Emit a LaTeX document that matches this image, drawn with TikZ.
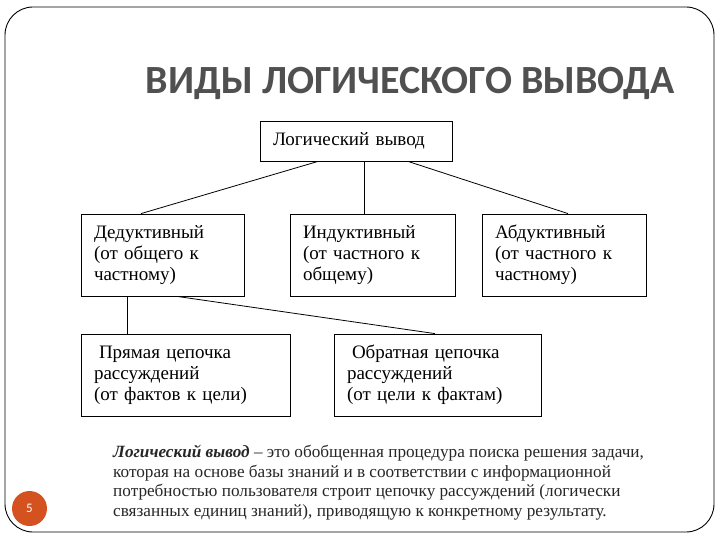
\documentclass[tikz,border=0pt]{standalone}
\usepackage{fontspec}
\setmainfont{Liberation Serif}
\newfontfamily\titlefont{Carlito}
\newfontfamily\notefont{Liberation Serif}
\usepackage{xcolor}
\usetikzlibrary{positioning, calc}
\definecolor{titlegray}{HTML}{505050}
\definecolor{pagered}{HTML}{D4521F}

\begin{document}
\begin{tikzpicture}[x=1pt, y=-1pt,
    box/.style={draw, line width=0.8pt, inner xsep=13pt, inner ysep=0pt,
                minimum height=82pt, align=left,
                font=\fontsize{19}{21}\selectfont},
    lnk/.style={line width=0.8pt},
    ttl/.style={font=\titlefont\bfseries\fontsize{40}{40}\selectfont, text=titlegray},
    note/.style={font=\notefont\fontsize{17.2}{19.5}\selectfont, text=black!85,
                 align=left, inner sep=0pt, anchor=north west},
]
\useasboundingbox (0,0) rectangle (720,540);
% slide frame
\draw[rounded corners=28pt, line width=0.9pt] (5,7) rectangle (714,532);

\node[ttl] (title) at (410.5,83) {ВИДЫ ЛОГИЧЕСКОГО ВЫВОДА};

\node[box, minimum height=40pt, text width=166pt] (lv) at (356,141) {Логический вывод};
\node[box, text width=137pt] (ded) at (162.5,255) {Дедуктивный\\(от общего к\\частному)};
\node[box, text width=139pt] (ind) at (372.5,255) {Индуктивный\\(от частного к\\общему)};
\node[box, text width=138pt] (abd) at (564,255) {Абдуктивный\\(от частного к\\частному)};
\node[box, text width=183pt] (pr) at (185.5,375) {\hspace{5pt}Прямая цепочка\\рассуждений\\(от фактов к цели)};
\node[box, text width=181pt] (obr) at (437.5,375) {\hspace{5pt}Обратная цепочка\\рассуждений\\(от цели к фактам)};

% connectors
\draw[lnk] ([xshift=-38pt]lv.south) -- ([xshift=-21.5pt]ded.north);
\draw[lnk] ([xshift=8pt]lv.south) -- ([xshift=8pt]lv.south |- ind.north);
\draw[lnk] ([xshift=52pt]lv.south) -- ([xshift=4pt]abd.north);
\draw[lnk] ([xshift=-35pt]ded.south) -- ([xshift=-35pt]ded.south |- pr.north);
\draw[lnk] ([xshift=14.5pt]ded.south) -- ([xshift=-2.5pt]obr.north);

\node[note] (def) at (113,445) {\textbf{\textit{Логический вывод}} – это обобщенная процедура поиска решения задачи,\\
которая на основе базы знаний и в соответствии с информационной\\
потребностью пользователя строит цепочку рассуждений (логически\\
связанных единиц знаний), приводящую к конкретному результату.};

\node[circle, fill=pagered, minimum size=35pt, inner sep=0pt, text=white,
      font=\titlefont\fontsize{13}{13}\selectfont] (pg) at (29.5,508.5) {5};
\end{tikzpicture}
\end{document}
